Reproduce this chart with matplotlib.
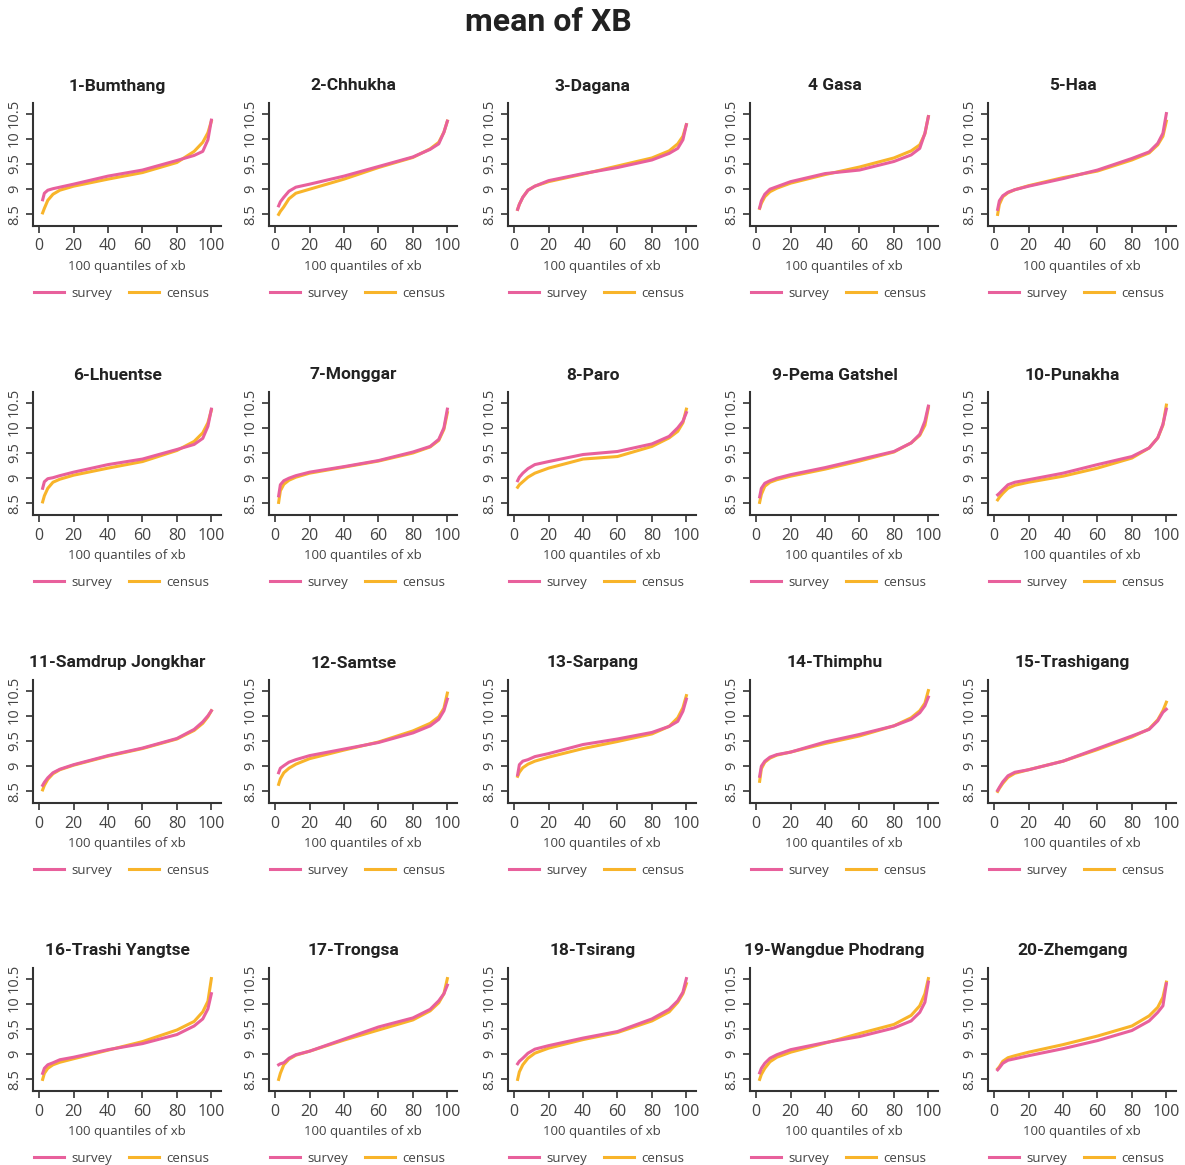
import matplotlib
matplotlib.use("Agg")
import matplotlib.pyplot as plt

# quantile positions
QX = [2, 3, 5, 8, 12, 20, 40, 60, 80, 90, 95, 98, 100]

DISTRICTS = [
    "1-Bumthang", "2-Chhukha", "3-Dagana", "4 Gasa", "5-Haa",
    "6-Lhuentse", "7-Monggar", "8-Paro", "9-Pema Gatshel", "10-Punakha",
    "11-Samdrup Jongkhar", "12-Samtse", "13-Sarpang", "14-Thimphu", "15-Trashigang",
    "16-Trashi Yangtse", "17-Trongsa", "18-Tsirang", "19-Wangdue Phodrang", "20-Zhemgang",
]

SURVEY = [
    [8.79, 8.92, 8.98, 9.01, 9.04, 9.10, 9.26, 9.38, 9.57, 9.67, 9.75, 9.98, 10.37],
    [8.67, 8.75, 8.84, 8.96, 9.04, 9.10, 9.26, 9.45, 9.64, 9.79, 9.90, 10.13, 10.35],
    [8.60, 8.70, 8.84, 8.98, 9.06, 9.17, 9.31, 9.43, 9.58, 9.71, 9.81, 9.98, 10.28],
    [8.63, 8.77, 8.90, 9.00, 9.05, 9.15, 9.31, 9.38, 9.55, 9.68, 9.81, 10.11, 10.44],
    [8.60, 8.77, 8.87, 8.94, 8.99, 9.06, 9.21, 9.38, 9.61, 9.74, 9.91, 10.11, 10.50],
    [8.80, 8.93, 8.99, 9.01, 9.05, 9.12, 9.27, 9.38, 9.57, 9.67, 9.79, 10.03, 10.37],
    [8.65, 8.87, 8.95, 9.00, 9.05, 9.12, 9.23, 9.35, 9.52, 9.63, 9.77, 10.00, 10.37],
    [8.95, 9.02, 9.10, 9.19, 9.27, 9.33, 9.47, 9.53, 9.68, 9.83, 10.00, 10.13, 10.30],
    [8.63, 8.80, 8.90, 8.95, 9.00, 9.07, 9.21, 9.37, 9.53, 9.70, 9.87, 10.13, 10.43],
    [8.67, 8.70, 8.77, 8.87, 8.92, 8.97, 9.10, 9.27, 9.43, 9.60, 9.80, 10.07, 10.37],
    [8.62, 8.68, 8.77, 8.87, 8.94, 9.03, 9.21, 9.36, 9.55, 9.73, 9.88, 10.00, 10.10],
    [8.87, 8.96, 9.01, 9.08, 9.13, 9.21, 9.34, 9.47, 9.66, 9.80, 9.93, 10.10, 10.33],
    [8.83, 9.03, 9.10, 9.13, 9.19, 9.25, 9.43, 9.54, 9.67, 9.79, 9.89, 10.09, 10.33],
    [8.80, 9.00, 9.10, 9.18, 9.23, 9.28, 9.48, 9.63, 9.80, 9.93, 10.06, 10.20, 10.37],
    [8.52, 8.58, 8.69, 8.81, 8.88, 8.93, 9.10, 9.35, 9.60, 9.73, 9.90, 10.07, 10.13],
    [8.62, 8.72, 8.79, 8.83, 8.89, 8.94, 9.09, 9.21, 9.39, 9.56, 9.70, 9.90, 10.20],
    [8.79, 8.81, 8.83, 8.92, 8.99, 9.06, 9.30, 9.54, 9.72, 9.89, 10.06, 10.20, 10.37],
    [8.81, 8.86, 8.92, 9.02, 9.10, 9.17, 9.32, 9.45, 9.70, 9.89, 10.06, 10.23, 10.50],
    [8.63, 8.72, 8.82, 8.92, 8.99, 9.09, 9.23, 9.35, 9.52, 9.66, 9.83, 10.03, 10.43],
    [8.69, 8.73, 8.82, 8.88, 8.91, 8.97, 9.11, 9.27, 9.47, 9.66, 9.83, 9.96, 10.40],
]

CENSUS = [
    [8.53, 8.62, 8.78, 8.90, 8.98, 9.06, 9.20, 9.33, 9.53, 9.75, 9.93, 10.12, 10.35],
    [8.50, 8.56, 8.65, 8.81, 8.92, 9.00, 9.20, 9.43, 9.63, 9.80, 9.93, 10.13, 10.35],
    [8.60, 8.70, 8.84, 8.98, 9.06, 9.15, 9.30, 9.46, 9.62, 9.76, 9.90, 10.05, 10.28],
    [8.62, 8.72, 8.85, 8.95, 9.02, 9.12, 9.29, 9.44, 9.62, 9.76, 9.88, 10.10, 10.44],
    [8.50, 8.70, 8.85, 8.93, 8.99, 9.07, 9.23, 9.36, 9.58, 9.72, 9.88, 10.05, 10.35],
    [8.53, 8.65, 8.80, 8.92, 8.98, 9.06, 9.20, 9.33, 9.55, 9.73, 9.90, 10.10, 10.35],
    [8.52, 8.75, 8.88, 8.96, 9.02, 9.10, 9.22, 9.34, 9.50, 9.62, 9.75, 9.97, 10.30],
    [8.82, 8.87, 8.93, 9.02, 9.10, 9.20, 9.38, 9.43, 9.63, 9.80, 9.93, 10.10, 10.37],
    [8.52, 8.68, 8.84, 8.92, 8.97, 9.04, 9.18, 9.34, 9.52, 9.70, 9.85, 10.05, 10.40],
    [8.57, 8.62, 8.70, 8.80, 8.86, 8.92, 9.04, 9.20, 9.40, 9.60, 9.80, 10.05, 10.45],
    [8.53, 8.62, 8.74, 8.85, 8.93, 9.02, 9.20, 9.35, 9.54, 9.71, 9.85, 9.98, 10.10],
    [8.64, 8.75, 8.87, 8.96, 9.04, 9.15, 9.32, 9.48, 9.70, 9.85, 9.98, 10.15, 10.45],
    [8.80, 8.88, 8.97, 9.04, 9.10, 9.18, 9.35, 9.49, 9.64, 9.79, 9.96, 10.16, 10.40],
    [8.70, 8.95, 9.08, 9.16, 9.22, 9.28, 9.45, 9.60, 9.80, 9.96, 10.10, 10.25, 10.50],
    [8.50, 8.56, 8.66, 8.78, 8.86, 8.93, 9.10, 9.33, 9.58, 9.74, 9.92, 10.10, 10.27],
    [8.50, 8.62, 8.72, 8.79, 8.84, 8.91, 9.08, 9.25, 9.48, 9.65, 9.84, 10.05, 10.50],
    [8.50, 8.62, 8.79, 8.90, 8.98, 9.06, 9.28, 9.48, 9.68, 9.86, 10.02, 10.20, 10.50],
    [8.50, 8.65, 8.79, 8.92, 9.02, 9.12, 9.29, 9.43, 9.66, 9.84, 10.03, 10.20, 10.40],
    [8.50, 8.60, 8.72, 8.85, 8.94, 9.04, 9.22, 9.41, 9.59, 9.77, 9.96, 10.20, 10.50],
    [8.71, 8.75, 8.86, 8.93, 8.97, 9.04, 9.19, 9.36, 9.56, 9.76, 9.93, 10.13, 10.43],
]

X_TICKS = [0, 20, 40, 60, 80, 100]
Y_TICKS = [8.5, 9, 9.5, 10, 10.5]
Y_TICK_LABELS = ["8.5", "9", "9.5", "10", "10.5"]

PINK = "#e8609c"
ORANGE = "#f8b42a"
AXIS = "#333333"
TEXT = "#444444"
TITLE_FONT = ["Roboto", "DejaVu Sans"]
BODY_FONT = ["Open Sans", "DejaVu Sans"]

W, H = 1185, 1165
fig = plt.figure(figsize=(W / 100, H / 100), dpi=100, facecolor="white")

col_left = [33, 269, 508, 750, 988]
row_top = [103, 392, 680, 968]
ax_w, ax_h = 188, 123

for i, name in enumerate(DISTRICTS):
    r, c = divmod(i, 5)
    left = col_left[c] / W
    bottom = 1 - (row_top[r] + ax_h) / H
    ax = fig.add_axes([left, bottom, ax_w / W, ax_h / H])

    ax.plot(QX, SURVEY[i], color=PINK, lw=2.2, label="survey", zorder=3)
    ax.plot(QX, CENSUS[i], color=ORANGE, lw=2.2, label="census", zorder=2)

    ax.set_xlim(-3.6, 105.6)
    ax.set_ylim(8.27, 10.71)
    ax.set_xticks(X_TICKS)
    ax.set_yticks(Y_TICKS)
    ax.set_yticklabels(Y_TICK_LABELS, rotation=90, va="center")
    for lab in ax.get_xticklabels():
        lab.set_family(BODY_FONT)
        lab.set_fontsize(11.5)
        lab.set_color(TEXT)
    for lab in ax.get_yticklabels():
        lab.set_family(BODY_FONT)
        lab.set_fontsize(10.5)
        lab.set_color(TEXT)
    ax.tick_params(axis="x", direction="out", length=5, width=1.2, color=AXIS, pad=4)
    ax.tick_params(axis="y", direction="out", length=5, width=1.2, color=AXIS, pad=3)

    for side in ("top", "right"):
        ax.spines[side].set_visible(False)
    for side in ("left", "bottom"):
        ax.spines[side].set_color(AXIS)
        ax.spines[side].set_linewidth(1.5)

    ax.set_title(name, fontsize=12.5, fontweight="bold", family=TITLE_FONT,
                 color="#222222", pad=9, x=0.45)
    ax.set_xlabel("100 quantiles of xb", fontsize=9.5, family=BODY_FONT,
                  color=TEXT, labelpad=4)

    leg = ax.legend(loc="upper center", bbox_to_anchor=(0.47, -0.40), ncol=2,
                    frameon=False, handlelength=2.3, columnspacing=1.3,
                    handletextpad=0.5, prop={"family": BODY_FONT, "size": 9.5})
    for t in leg.get_texts():
        t.set_color(TEXT)

fig.text(0.463, 1 - 22 / H, "mean of XB", ha="center", va="center",
         fontsize=23, fontweight="bold", family=TITLE_FONT, color="#222222")

fig.savefig("out.png", dpi=100, facecolor="white")
